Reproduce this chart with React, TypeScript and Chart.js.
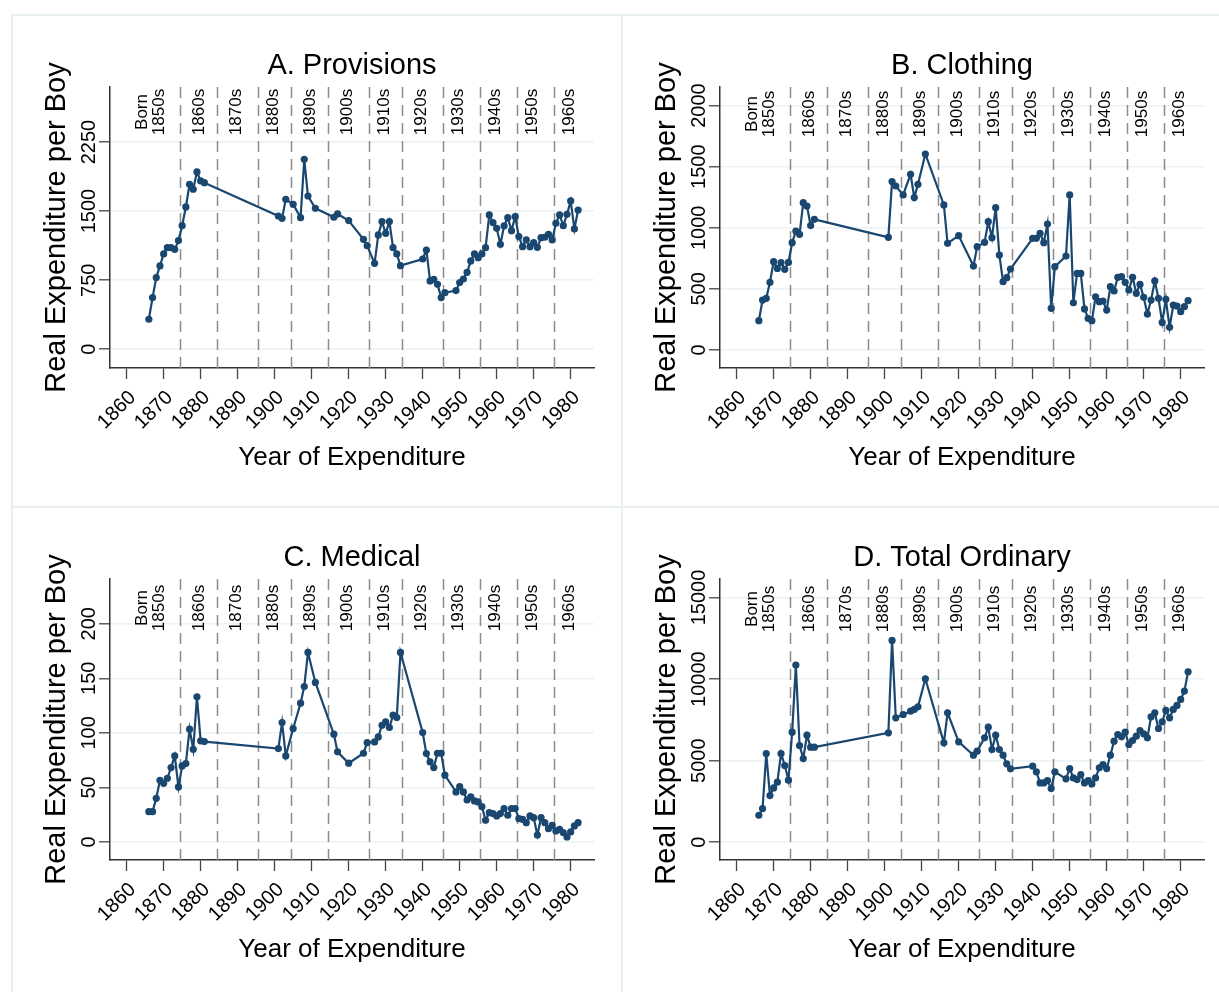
import React, { useEffect, useRef } from "react";
import { Chart, registerables } from "chart.js";

Chart.register(...registerables);

const FONT = '"Liberation Sans", Arial, Helvetica, sans-serif';

const years = [
  1866, 1867, 1868, 1869, 1870, 1871, 1872, 1873, 1874, 1875, 1876, 1877, 1878, 1879, 1880, 1881,
  1901, 1902, 1903, 1905, 1907, 1908, 1909, 1911,
  1916, 1917, 1920,
  1924, 1925, 1927, 1928, 1929, 1930, 1931, 1932, 1933, 1934,
  1940, 1941, 1942, 1943, 1944, 1945, 1946,
  1949, 1950, 1951, 1952, 1953, 1954, 1955, 1956, 1957, 1958, 1959, 1960, 1961, 1962, 1963, 1964,
  1965, 1966, 1967, 1968, 1969, 1970, 1971, 1972, 1973, 1974, 1975, 1976, 1977, 1978, 1979, 1980,
  1981, 1982,
];

const provisions = [
  326, 561, 778, 905, 1035, 1103, 1103, 1085, 1180, 1342, 1545, 1791, 1737, 1925, 1827, 1809,
  1447, 1422, 1628, 1574, 1429, 2062, 1664, 1530,
  1433, 1469, 1397,
  1194, 1125, 933, 1241, 1386, 1259, 1386, 1103, 1035, 908,
  980, 1078, 742, 760, 705, 561, 615,
  637, 724, 763, 836, 959, 1035, 995, 1035, 1103, 1458, 1375, 1313, 1140, 1339, 1429, 1288,
  1440, 1223, 1114, 1187, 1114, 1158, 1107, 1212, 1216, 1248, 1187, 1368, 1458, 1342, 1465, 1610,
  1306, 1512,
];

const clothing = [
  240, 409, 423, 554, 723, 668, 715, 660, 717, 878, 974, 947, 1206, 1178, 1018, 1069,
  922, 1378, 1342, 1269, 1438, 1247, 1356, 1604,
  1187, 873, 936,
  687, 846, 881, 1050, 919, 1165, 777, 559, 592, 663,
  914, 914, 955, 878, 1031, 341, 682,
  769, 1269, 387, 627, 627, 336, 259, 240, 436, 396, 401, 327, 518, 483, 595, 600,
  554, 491, 595, 464, 537, 431, 295, 409, 565, 423, 226, 415, 186, 368, 360, 314,
  355, 404,
];

const medical = [
  27.8, 27.8, 40, 56.6, 53.8, 58.4, 68.2, 78.9, 50.5, 69.7, 71.9, 103.4, 85, 133, 92.7, 92,
  85.6, 109.5, 78.9, 104, 127.2, 142.5, 173.7, 146.2,
  98.8, 82.6, 72.2,
  81.3, 91.1, 91.7, 96.3, 107, 110, 104.9, 116.2, 114, 173.7,
  100.3, 81, 73.4, 68.2, 81.3, 81.3, 61.2,
  45.9, 50.8, 45.9, 38.5, 41.3, 37.6, 36.7, 32.4, 19.9, 26.9, 26, 23.9, 26, 30.6, 24.5, 30.6,
  30.6, 21.4, 20.8, 17.7, 23.9, 22.3, 6.4, 22.3, 17.7, 12.2, 15.3, 10.1, 11.6, 8.6, 4.6, 9.2,
  14.7, 17.7,
];

const totalOrdinary = [
  1656, 2065, 5440, 2863, 3333, 3681, 5440, 4704, 3804, 6749, 10859, 5931, 5133, 6565, 5828, 5828,
  6708, 12372, 7628, 7832, 8037, 8139, 8303, 10020,
  6094, 7935, 6155,
  5337, 5583, 6400, 7055, 5685, 6565, 5685, 5337, 4806, 4499,
  4663, 4315, 3640, 3640, 3783, 3292, 4315,
  3886, 4520, 3947, 3845, 4151, 3640, 3783, 3579, 3947, 4560, 4765, 4520, 5337, 6196, 6605, 6462,
  6749, 5992, 6237, 6503, 6851, 6646, 6401, 7689, 7935, 6974, 7382, 8078, 7628, 8139, 8385, 8753,
  9264, 10450,
];

const xTickYears = [1860, 1870, 1880, 1890, 1900, 1910, 1920, 1930, 1940, 1950, 1960, 1970, 1980];

const provisionsTicks = [0, 750, 1500, 2250];
const clothingTicks = [0, 500, 1000, 1500, 2000];
const medicalTicks = [0, 50, 100, 150, 200];
const totalTicks = [0, 5000, 10000, 15000];

const cohortBoundaries = [1874.5, 1884.5, 1895.5, 1904.5, 1914.5, 1925.5, 1934.5, 1945.5, 1955.5, 1965.5, 1975.5];
const cohortLabels = ["1860s", "1870s", "1880s", "1890s", "1900s", "1910s", "1920s", "1930s", "1940s", "1950s", "1960s"];
const cohortLabelYears = [1880, 1890, 1900, 1910, 1920, 1930, 1940, 1950, 1960, 1970, 1980];
const firstCohortLines = ["Born", "1850s"];
const firstCohortYear = 1866.6;

const NAVY = "#1a476f";

type Panel = {
  title: string;
  values: number[];
  yTicks: number[];
  yMin: number;
  yMax: number;
  labelOffset: number;
};

const panels: Panel[] = [
  { title: "A. Provisions", values: provisions, yTicks: provisionsTicks, yMin: -203, yMax: 2847, labelOffset: 25 },
  { title: "B. Clothing", values: clothing, yTicks: clothingTicks, yMin: -147, yMax: 2152, labelOffset: 27 },
  { title: "C. Medical", values: medical, yTicks: medicalTicks, yMin: -16.5, yMax: 241, labelOffset: 29 },
  { title: "D. Total Ordinary", values: totalOrdinary, yTicks: totalTicks, yMin: -1086, yMax: 16135, labelOffset: 30 },
];

const PANEL_W = 610;
const PANEL_H = 492;

function PanelChart({ panel }: { panel: Panel }) {
  const ref = useRef<HTMLCanvasElement | null>(null);
  useEffect(() => {
    if (!ref.current) return;
    const decoPlugin = {
      id: "decades",
      beforeDatasetsDraw(chart: any) {
        const { ctx, chartArea } = chart;
        const x = chart.scales.x;
        ctx.save();
        ctx.strokeStyle = "#8c8c8c";
        ctx.lineWidth = 1.5;
        ctx.setLineDash([11, 7]);
        for (const b of cohortBoundaries) {
          const px = Math.round(x.getPixelForValue(b)) + 0.5;
          ctx.beginPath();
          ctx.moveTo(px, chartArea.top);
          ctx.lineTo(px, chartArea.bottom);
          ctx.stroke();
        }
        ctx.restore();
      },
      afterDraw(chart: any) {
        const { ctx, chartArea } = chart;
        const x = chart.scales.x;
        const y = chart.scales.y;
        ctx.save();
        ctx.fillStyle = "#000";
        ctx.font = `17px ${FONT}`;
        ctx.textAlign = "center";
        ctx.textBaseline = "middle";
        const cy = chartArea.top + panel.labelOffset;
        cohortLabels.forEach((lab, i) => {
          const px = x.getPixelForValue(cohortLabelYears[i]) - 1;
          ctx.save();
          ctx.translate(px, cy);
          ctx.rotate(-Math.PI / 2);
          ctx.fillText(lab, 0, 0);
          ctx.restore();
        });
        const fc = x.getPixelForValue(firstCohortYear);
        firstCohortLines.forEach((lab, i) => {
          const px = fc + (i === 0 ? -8.5 : 8.5);
          ctx.save();
          ctx.translate(px, cy);
          ctx.rotate(-Math.PI / 2);
          ctx.fillText(lab, 0, 0);
          ctx.restore();
        });
        ctx.font = `20px ${FONT}`;
        ctx.textAlign = "center";
        ctx.textBaseline = "alphabetic";
        for (const v of panel.yTicks) {
          const py = y.getPixelForValue(v);
          ctx.save();
          ctx.translate(83, py);
          ctx.rotate(-Math.PI / 2);
          ctx.fillText(String(v), 0, 0);
          ctx.restore();
        }
        ctx.restore();
      },
    };

    const chart = new Chart(ref.current, {
      type: "line",
      data: {
        datasets: [
          {
            data: years.map((yr, i) => ({ x: yr, y: panel.values[i] })),
            borderColor: NAVY,
            backgroundColor: NAVY,
            borderWidth: 2.2,
            pointRadius: 3.6,
            pointBorderWidth: 0,
            pointBackgroundColor: NAVY,
            tension: 0,
            fill: false,
          },
        ],
      },
      options: {
        responsive: false,
        animation: false,
        layout: { padding: { top: 0, left: 0, right: 28, bottom: 0 } },
        plugins: {
          legend: { display: false },
          tooltip: { enabled: false },
          title: {
            display: true,
            text: panel.title,
            fullSize: false,
            color: "#000",
            font: { family: FONT, size: 29, weight: "normal" },
            padding: { top: 33.1, bottom: 4.1 },
          },
        },
        scales: {
          x: {
            type: "linear",
            min: 1855.5,
            max: 1986.3,
            afterBuildTicks: (s: any) => {
              s.ticks = xTickYears.map((v) => ({ value: v }));
            },
            afterFit: (s: any) => {
              s.height = 139;
              s.paddingLeft = 0;
              s.paddingRight = 0;
              s.paddingTop = 0;
              s.paddingBottom = 0;
            },
            grid: {
              drawOnChartArea: false,
              drawTicks: true,
              tickLength: 11,
              tickColor: "#444",
              tickWidth: 1.3,
            },
            border: { display: true, color: "#333", width: 1.5 },
            ticks: {
              autoSkip: false,
              minRotation: 45,
              maxRotation: 45,
              padding: 7,
              labelOffset: 6,
              color: "#000",
              font: { family: FONT, size: 20 },
              callback: (v: any) => String(v),
            },
            title: {
              display: true,
              text: "Year of Expenditure",
              color: "#000",
              font: { family: FONT, size: 26 },
              padding: { top: 0, bottom: 34 },
            },
          },
          y: {
            type: "linear",
            min: panel.yMin,
            max: panel.yMax,
            afterBuildTicks: (s: any) => {
              s.ticks = panel.yTicks.map((v) => ({ value: v }));
            },
            afterFit: (s: any) => {
              s.width = 98;
              s.paddingLeft = 0;
              s.paddingRight = 0;
              s.paddingTop = 0;
              s.paddingBottom = 0;
            },
            grid: {
              color: "#eaf2f3",
              lineWidth: 1.6,
              drawTicks: true,
              tickLength: 11,
              tickColor: "#444",
              tickWidth: 1.3,
            },
            border: { display: true, color: "#333", width: 1.5 },
            ticks: { display: false },
            title: {
              display: true,
              text: "Real Expenditure per Boy",
              color: "#000",
              font: { family: FONT, size: 29 },
              padding: { top: 27.1, bottom: 0 },
            },
          },
        },
      } as any,
      plugins: [decoPlugin as any],
    });
    return () => chart.destroy();
  }, [panel]);
  return <canvas ref={ref} width={PANEL_W} height={PANEL_H} style={{ width: PANEL_W, height: PANEL_H, display: "block" }} />;
}

export default function App() {
  return (
    <div style={{ position: "absolute", left: 0, top: 0, width: 1219, height: 992, overflow: "hidden", background: "#fff" }}>
      {panels.map((p, i) => {
        const col = i % 2;
        const row = Math.floor(i / 2);
        return (
          <div
            key={"f" + i}
            style={{
              position: "absolute",
              left: 11 + col * PANEL_W,
              top: 14 + row * PANEL_H,
              width: PANEL_W + 2,
              height: PANEL_H + 2,
              border: "2px solid #e8eff3",
              boxSizing: "border-box",
            }}
          />
        );
      })}
      {panels.map((p, i) => {
        const col = i % 2;
        const row = Math.floor(i / 2);
        return (
          <div key={"c" + i} style={{ position: "absolute", left: 12 + col * PANEL_W, top: 15 + row * PANEL_H }}>
            <PanelChart panel={p} />
          </div>
        );
      })}
    </div>
  );
}
